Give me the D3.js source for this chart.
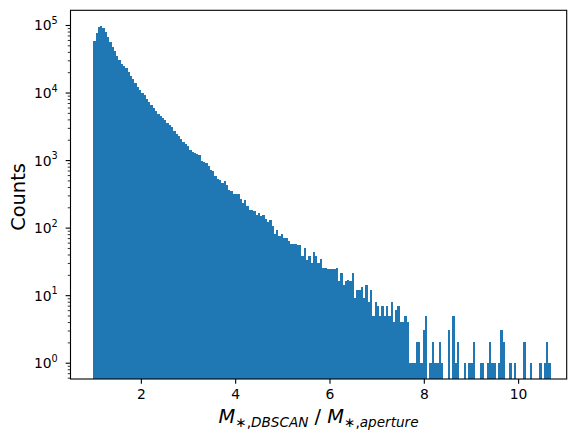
<!DOCTYPE html>
<html>
<head>
<meta charset="utf-8">
<script src="https://cdn.jsdelivr.net/npm/d3@7"></script>
<style>
  html, body { margin: 0; padding: 0; background: #fff; }
  text { font-family: "DejaVu Sans", sans-serif; fill: #000; }
</style>
</head>
<body>
<div id="chart"></div>
<script>
// histogram counts, 200 equal bins
const counts = [
  58000, 76000, 94000, 97000, 91000, 79000, 67000, 56000, 47500, 41500,
  35000, 30500, 26600, 24800, 23200, 20300, 17700, 16000, 13900, 12100,
  11000, 9900, 9260, 8080, 7300, 6590, 5950, 5370, 4850, 4530,
  4200, 3950, 3570, 3330, 3110, 2710, 2450, 2290, 2070, 1870,
  1740, 1630, 1420, 1330, 1280, 1240, 1200, 977, 944, 912,
  824, 718, 693, 585, 527, 509, 460, 492, 428, 361,
  350, 316, 316, 316, 266, 232, 257, 210, 183, 183,
  174, 154, 165, 149, 154, 135, 121, 130, 106, 81,
  92, 75, 81, 70, 70, 64, 57, 57, 57, 55,
  55, 38, 50, 33, 38, 30, 44, 38, 30, 34,
  25, 25, 24, 24, 24, 24, 25, 16, 21, 14,
  16, 17, 16, 21, 9, 12, 12, 13, 9, 14,
  8, 12, 5, 8, 7, 5, 7, 5, 7, 5,
  8, 4, 6, 7, 4, 4, 5, 4, 1, 1,
  1, 2, 2, 1, 3, 5, 0, 1, 2, 1,
  1, 2, 1, 0, 0, 3, 0, 5, 1, 2,
  0, 0, 1, 0, 1, 1, 2, 0, 0, 1,
  1, 0, 1, 2, 1, 1, 0, 1, 3, 2,
  0, 0, 1, 0, 1, 0, 0, 0, 2, 0,
  0, 1, 0, 0, 0, 1, 0, 1, 2, 1
];
const binStart = 0.99;
const binEnd = 10.69;

const xTicks = [2, 4, 6, 8, 10];
const yExponents = [0, 1, 2, 3, 4, 5];

const width = 575, height = 443;
const margin = {top: 10.3, right: 8.3, bottom: 64, left: 70.5};
const barColor = '#1f77b4';

const svg = d3.select('#chart').append('svg')
  .attr('width', width)
  .attr('height', height);

const x = d3.scaleLinear()
  .domain([0.508, 11.03])
  .range([margin.left, width - margin.right]);

const y = d3.scaleLog()
  .domain([0.574, 165000])
  .range([height - margin.bottom, margin.top]);

const binW = (binEnd - binStart) / counts.length;
const bins = counts.map((c, i) => ({x0: binStart + i * binW, x1: binStart + (i + 1) * binW, count: c}));

svg.append('clipPath').attr('id', 'plot-clip')
  .append('rect')
  .attr('x', margin.left)
  .attr('y', margin.top)
  .attr('width', width - margin.left - margin.right)
  .attr('height', height - margin.top - margin.bottom);

svg.append('g')
  .attr('clip-path', 'url(#plot-clip)')
  .selectAll('rect')
  .data(bins.filter(d => d.count > 0))
  .enter()
  .append('rect')
  .attr('x', d => x(d.x0))
  .attr('width', d => x(d.x1) - x(d.x0))
  .attr('y', d => y(d.count))
  .attr('height', d => height - margin.bottom - y(d.count))
  .attr('fill', barColor)
  .attr('shape-rendering', 'crispEdges');

// -------------------
// axes
const tickLen = 4.86, minorLen = 2.78, tickPad = 4.86;

const xAxis = svg.append('g')
  .attr('transform', `translate(0,${height - margin.bottom})`)
  .call(d3.axisBottom(x).tickValues(xTicks).tickSize(tickLen).tickPadding(tickPad).tickFormat(d3.format('d')));
xAxis.select('.domain').remove();
xAxis.selectAll('line').attr('stroke', '#000').attr('stroke-width', 1.1);
xAxis.selectAll('text')
  .attr('font-size', '13.9px')
  .attr('font-family', 'DejaVu Sans')
  .attr('fill', '#000');

const minorVals = [];
for (let e = -1; e <= 5; e++) {
  for (let m = 2; m <= 9; m++) {
    const v = m * Math.pow(10, e);
    if (v >= y.domain()[0] && v <= y.domain()[1]) minorVals.push(v);
  }
}

const yMinor = svg.append('g')
  .attr('transform', `translate(${margin.left},0)`)
  .call(d3.axisLeft(y).tickValues(minorVals).tickSize(minorLen).tickFormat(''));
yMinor.select('.domain').remove();
yMinor.selectAll('line').attr('stroke', '#000').attr('stroke-width', 0.8);

const yAxis = svg.append('g')
  .attr('transform', `translate(${margin.left},0)`)
  .call(d3.axisLeft(y).tickValues(yExponents.map(e => Math.pow(10, e))).tickSize(tickLen).tickFormat(''));
yAxis.select('.domain').remove();
yAxis.selectAll('line').attr('stroke', '#000').attr('stroke-width', 1.1);

const yLabels = svg.append('g');
yExponents.forEach(e => {
  const t = yLabels.append('text')
    .attr('x', margin.left - tickLen - tickPad - 3)
    .attr('y', y(Math.pow(10, e)) + 5.5)
    .attr('text-anchor', 'end')
    .attr('font-size', '13.9px');
  t.append('tspan').text('10');
  t.append('tspan').attr('dy', -6.5).attr('font-size', '9.7px').text(e);
});

// frame
svg.append('rect')
  .attr('x', margin.left)
  .attr('y', margin.top)
  .attr('width', width - margin.left - margin.right)
  .attr('height', height - margin.top - margin.bottom)
  .attr('fill', 'none')
  .attr('stroke', '#000')
  .attr('stroke-width', 1.1);

// -------------------
// axis titles
svg.append('text')
  .attr('transform', `translate(25,197) rotate(-90)`)
  .attr('text-anchor', 'middle')
  .attr('font-size', '19.4px')
  .text('Counts');

const xl = svg.append('text')
  .attr('x', (margin.left + width - margin.right) / 2)
  .attr('y', 423)
  .attr('text-anchor', 'middle')
  .attr('font-size', '19.4px');
xl.append('tspan').attr('font-style', 'italic').text('M');
xl.append('tspan').attr('font-size', '13.6px').attr('dy', 4).text('\u2217,');
xl.append('tspan').attr('font-size', '13.6px').attr('font-style', 'italic').text('DBSCAN');
xl.append('tspan').attr('dy', -4).text(' / ');
xl.append('tspan').attr('font-style', 'italic').text('M');
xl.append('tspan').attr('font-size', '13.6px').attr('dy', 4).text('\u2217,');
xl.append('tspan').attr('font-size', '13.6px').attr('font-style', 'italic').text('aperture');
</script>
</body>
</html>
